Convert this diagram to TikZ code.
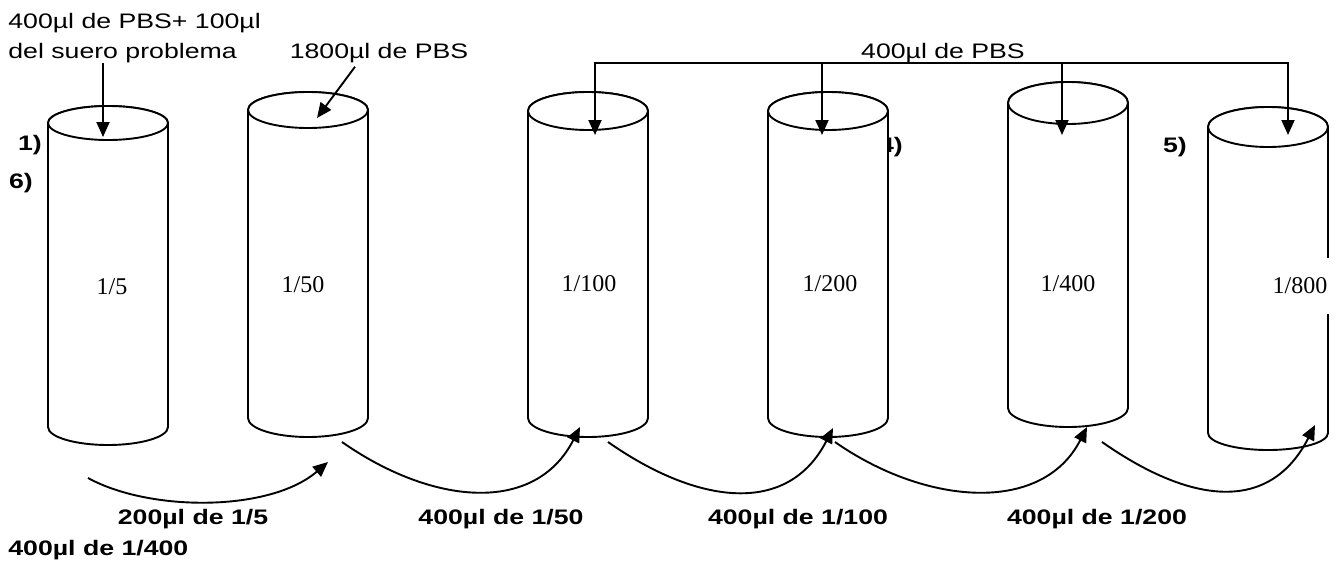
\documentclass[tikz,border=0pt]{standalone}
\usepackage{fontspec}
\setmainfont{Liberation Sans}[FakeStretch=1.27]
\newfontfamily\serifnum{Liberation Serif}
\usetikzlibrary{arrows.meta}

\begin{document}
\begin{tikzpicture}[
  x=0.5pt, y=-0.5pt,
  tubo/.style={draw, line width=0.95pt, fill=white},
  flecha/.style={-{Triangle[length=7.5pt, width=6.5pt]}, line width=0.95pt},
  texto/.style={inner sep=0pt, font=\fontsize{10.5}{15}\selectfont},
  paso/.style={inner sep=0pt, font=\fontsize{10.5}{13}\selectfont\bfseries},
  dilucion/.style={fill=white, inner xsep=3pt, inner ysep=10pt, font=\fontsize{12}{14}\serifnum}
]
  \useasboundingbox (0,0) rectangle (1340,562);

  % numero tapado por el tubo 4
  \node[paso] (p4) at (891,147) {4)};

  % tubos
  \foreach \n/\cx/\yt/\yb/\rt/\rb in {1/108/123/427/17/18, 2/308/110/418/18/19,
      3/588/111/418/19/19, 4/828/111/418/19/19, 5/1068/103/408/21/19, 6/1268/127/433/20/17}{
    \draw[tubo] (\cx-60,\yt) -- (\cx-60,\yb) arc[start angle=180, end angle=0, x radius=60, y radius=\rb]
      -- (\cx+60,\yt) arc[start angle=0, end angle=-180, x radius=60, y radius=\rt];
    \draw[tubo] (\cx,\yt) ellipse[x radius=60, y radius=\rt];
  }

  \node[texto, anchor=north west, align=left] (suero) at (8,13) {400µl de PBS+ 100µl\\del suero problema};
  \node[texto, anchor=base] (pbs1800) at (379,58) {1800µl de PBS};
  \node[texto, anchor=base] (pbs400) at (943,58) {400µl de PBS};

  \node[dilucion] (d1) at (112,287) {1/5};
  \node[dilucion] (d2) at (303,285) {1/50};
  \node[dilucion] (d3) at (589,284) {1/100};
  \node[dilucion] (d4) at (830,284) {1/200};
  \node[dilucion] (d5) at (1068,284) {1/400};
  \node[dilucion] (d6) at (1300,286) {1/800};

  \node[paso] (p1) at (30,145) {1)};
  \node[paso] (p6) at (21,183) {6)};
  \node[paso] (p5) at (1175,147) {5)};

  \node[paso, anchor=base] (v1) at (193,524) {200µl de 1/5};
  \node[paso, anchor=base] (v2) at (501,524) {400µl de 1/50};
  \node[paso, anchor=base] (v3) at (798,524) {400µl de 1/100};
  \node[paso, anchor=base] (v4) at (1097,524) {400µl de 1/200};
  \node[paso, anchor=base west] (v5) at (8,555) {400µl de 1/400};

  \coordinate (in1) at (103,137);
  \coordinate (in2) at (317,118);
  \coordinate (in3) at (595,135);
  \coordinate (in4) at (822,135);
  \coordinate (in5) at (1062,135);
  \coordinate (in6) at (1288,135);

  \coordinate (out1) at (88,478);
  \coordinate (out2) at (342,442);
  \coordinate (out3) at (608,442);
  \coordinate (out4) at (835,442);
  \coordinate (out5) at (1102,442);
  \coordinate (fondo2) at (328,462);
  \coordinate (fondo3) at (580,427);
  \coordinate (fondo4) at (833,428);
  \coordinate (fondo5) at (1087,427);
  \coordinate (fondo6) at (1315,425);

  \draw[flecha] (suero.south -| in1) -- (in1);
  \draw[flecha] ([xshift=-12pt, yshift=-2pt]pbs1800.south) -- (in2);
  \foreach \n in {3,...,6}
    \draw[flecha] (pbs400.south) -| (in\n);

  \draw[flecha] (out1) .. controls +(62,34) and +(-58,50) .. (fondo2);
  \draw[flecha] (out2) .. controls +(90,63) and +(-45,88) .. (fondo3);
  \draw[flecha] (out3) .. controls +(90,63) and +(-45,88) .. (fondo4);
  \draw[flecha] (out4) .. controls +(90,63) and +(-45,88) .. (fondo5);
  \draw[flecha] (out5) .. controls +(90,63) and +(-45,88) .. (fondo6);
\end{tikzpicture}
\end{document}
